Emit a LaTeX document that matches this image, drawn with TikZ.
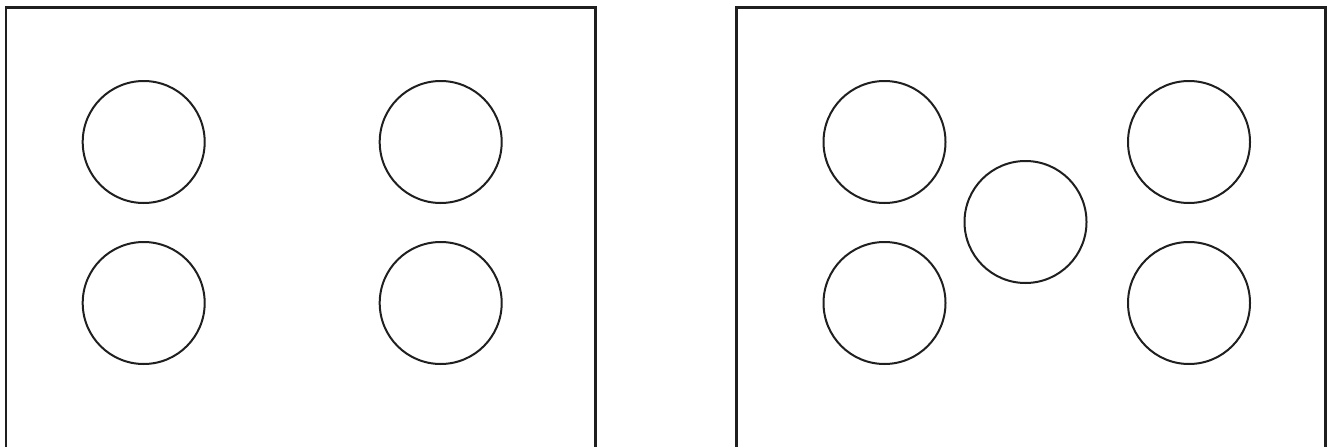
\documentclass[tikz,border=0pt]{standalone}
\begin{document}
\begin{tikzpicture}[x=1pt,y=-1pt,
  panel/.style={draw=black!88,line width=2.6pt,line join=miter},
  dot/.style={circle,draw=black!88,line width=2pt,minimum size=122pt,inner sep=0pt}]
\useasboundingbox (0,0) rectangle (1333,447);
% left panel
\coordinate (l1) at (6,447);
\coordinate (l2) at (6,7.2);
\coordinate (l3) at (595.5,7.2);
\coordinate (l4) at (595.5,447);
\draw[panel] (l1) -- (l2) -- (l3) -- (l4);
% right panel
\coordinate (r1) at (736.3,447);
\coordinate (r2) at (736.3,7.2);
\coordinate (r3) at (1325.5,7.2);
\coordinate (r4) at (1325.5,447);
\draw[panel] (r1) -- (r2) -- (r3) -- (r4);
% left circles
\node[dot] (a1) at (143.7,142) {};
\node[dot] (a2) at (440.7,142) {};
\node[dot] (a3) at (143.7,303) {};
\node[dot] (a4) at (440.7,303) {};
% right circles
\node[dot] (b1) at (884.5,142) {};
\node[dot] (b2) at (1189,142) {};
\node[dot] (b3) at (1025.5,222) {};
\node[dot] (b4) at (884.5,303) {};
\node[dot] (b5) at (1189,303) {};
\end{tikzpicture}
\end{document}
